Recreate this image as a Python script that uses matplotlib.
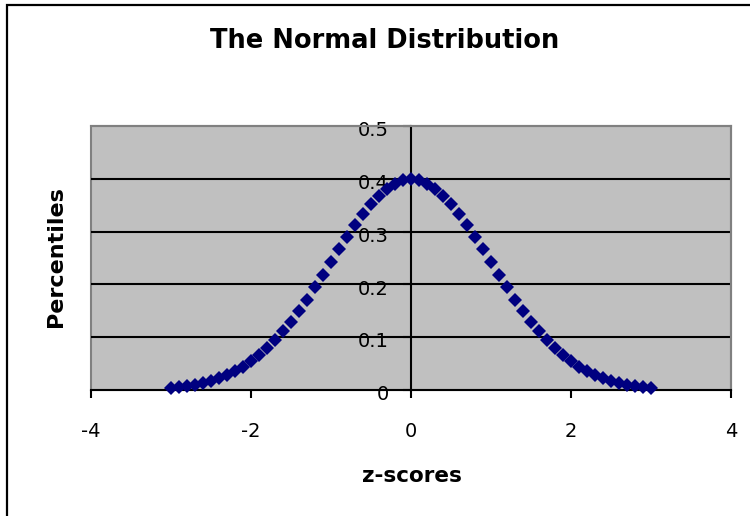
import matplotlib
matplotlib.use('Agg')
import matplotlib.pyplot as plt
import matplotlib.transforms as mtransforms
from matplotlib.patches import Rectangle

# === データ ===
z_scores = [-3.0, -2.9, -2.8, -2.7, -2.6, -2.5, -2.4, -2.3, -2.2, -2.1,
            -2.0, -1.9, -1.8, -1.7, -1.6, -1.5, -1.4, -1.3, -1.2, -1.1,
            -1.0, -0.9, -0.8, -0.7, -0.6, -0.5, -0.4, -0.3, -0.2, -0.1,
            0.0, 0.1, 0.2, 0.3, 0.4, 0.5, 0.6, 0.7, 0.8, 0.9,
            1.0, 1.1, 1.2, 1.3, 1.4, 1.5, 1.6, 1.7, 1.8, 1.9,
            2.0, 2.1, 2.2, 2.3, 2.4, 2.5, 2.6, 2.7, 2.8, 2.9, 3.0]
percentiles = [0.0044, 0.0060, 0.0079, 0.0104, 0.0136, 0.0175, 0.0224, 0.0283, 0.0355, 0.0440,
               0.0540, 0.0656, 0.0790, 0.0940, 0.1109, 0.1295, 0.1497, 0.1714, 0.1942, 0.2179,
               0.2420, 0.2661, 0.2897, 0.3123, 0.3332, 0.3521, 0.3683, 0.3814, 0.3910, 0.3970,
               0.3989, 0.3970, 0.3910, 0.3814, 0.3683, 0.3521, 0.3332, 0.3123, 0.2897, 0.2661,
               0.2420, 0.2179, 0.1942, 0.1714, 0.1497, 0.1295, 0.1109, 0.0940, 0.0790, 0.0656,
               0.0540, 0.0440, 0.0355, 0.0283, 0.0224, 0.0175, 0.0136, 0.0104, 0.0079, 0.0060, 0.0044]
x_ticks = [-4, -2, 0, 2, 4]
y_ticks = [0, 0.1, 0.2, 0.3, 0.4, 0.5]
y_tick_labels = ['0', '0.1', '0.2', '0.3', '0.4', '0.5']

W, H = 750, 516
fig = plt.figure(figsize=(W / 100, H / 100), dpi=100)

# 外枠
fig.patches.append(Rectangle((7 / W, -0.1), 1.2, 1.1 - 5 / H, transform=fig.transFigure,
                             fill=False, edgecolor='black', linewidth=1.6))

# === プロット領域 ===
ax = fig.add_axes([91 / W, 1 - 390 / H, (731 - 91) / W, (390 - 126) / H])
ax.patch.set_facecolor('#c0c0c0')
ax.patch.set_edgecolor('#808080')
ax.patch.set_linewidth(1.5)

ax.set_xlim(-4, 4)
ax.set_ylim(0, 0.5)
ax.set_xticks(x_ticks)
ax.set_xticklabels([str(t) for t in x_ticks])
ax.set_yticks(y_ticks)
ax.set_yticklabels(y_tick_labels)

# 軸線
ax.spines['left'].set_position(('data', 0))
for s in ['left', 'bottom']:
    ax.spines[s].set_color('black')
    ax.spines[s].set_linewidth(1.5)
for s in ['top', 'right']:
    ax.spines[s].set_color('#808080')
    ax.spines[s].set_linewidth(1.5)

ax.tick_params(axis='x', direction='out', length=6, width=1.5, pad=17, labelsize=14)
ax.tick_params(axis='y', direction='out', length=6, width=1.5, pad=10, labelsize=14)

# Y目盛ラベルを少し下げる
offset = mtransforms.ScaledTranslation(0, -2 / 72, fig.dpi_scale_trans)
for lbl in ax.get_yticklabels():
    lbl.set_transform(lbl.get_transform() + offset)

# グリッド線
for v in y_ticks[1:-1]:
    ax.axhline(v, color='black', linewidth=1.5, zorder=1)

# === 散布図 ===
ax.plot(z_scores, percentiles, linestyle='none', marker='D', markersize=6.8,
        color='#000080', markeredgewidth=0, zorder=4, clip_on=False)

# === ラベル ===
fig.text(385 / W, 1 - 48 / H, 'The Normal Distribution', ha='center', va='baseline',
         fontsize=18.5, weight='bold')
fig.text(56 / W, 1 - 257 / H, 'Percentiles', rotation=90, ha='center', va='center',
         fontsize=16, weight='bold')
fig.text(412 / W, 1 - 482 / H, 'z-scores', ha='center', va='baseline',
         fontsize=15.5, weight='bold')

fig.savefig('out.png', dpi=100, facecolor='white')
